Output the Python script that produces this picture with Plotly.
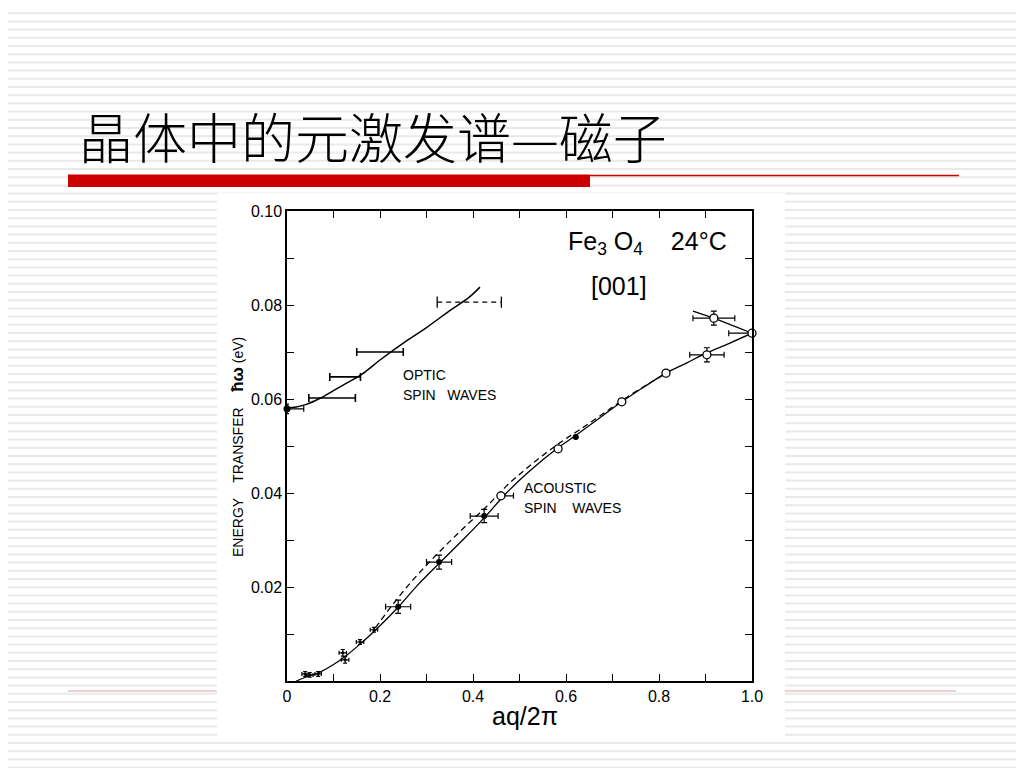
import plotly.graph_objects as go

# ---------------- data ----------------
# acoustic branch: small points near origin (tiny error crosses)
small_x = [0.039, 0.049, 0.067, 0.120, 0.125, 0.157, 0.187]
small_y = [0.0015, 0.0013, 0.0015, 0.0060, 0.0045, 0.0083, 0.0109]
small_ex = [0.007, 0.007, 0.007, 0.008, 0.008, 0.008, 0.008]
small_ey = [0.0005, 0.0005, 0.0005, 0.0007, 0.0007, 0.0005, 0.0005]

# acoustic filled points
filled_x = [0.239, 0.327, 0.424, 0.621]
filled_y = [0.0158, 0.0253, 0.0351, 0.0519]
filled_ex = [0.027, 0.027, 0.030, 0.0]
filled_ey = [0.0014, 0.0015, 0.0014, 0.0]

# acoustic open points
open_x = [0.460, 0.583, 0.720, 0.815, 0.903, 0.918, 1.000]
open_y = [0.0394, 0.0494, 0.0594, 0.0655, 0.0694, 0.0772, 0.0740]
open_ex_plus = [0.027, 0.0, 0.0, 0.0, 0.037, 0.045, 0.0]
open_ex_minus = [0.0, 0.0, 0.0, 0.0, 0.037, 0.045, 0.050]
open_ey = [0.0, 0.0, 0.0, 0.0, 0.0015, 0.0015, 0.0]

# acoustic curves
ac_x = [0.02, 0.04, 0.067, 0.10, 0.13, 0.16, 0.19, 0.24, 0.28, 0.33, 0.38, 0.424,
        0.47, 0.52, 0.58, 0.62, 0.67, 0.72, 0.77, 0.815, 0.86, 0.90, 0.95, 1.00]
ac_y = [0.0000, 0.0008, 0.0017, 0.0035, 0.0056, 0.0081, 0.0108, 0.0158, 0.0203, 0.0253,
        0.0302, 0.0347, 0.0398, 0.0445, 0.0494, 0.0522, 0.0558, 0.0594, 0.0627, 0.0655,
        0.0677, 0.0697, 0.0718, 0.0740]
dash_x = [0.19, 0.23, 0.27, 0.31, 0.35, 0.39, 0.43, 0.47, 0.51, 0.55, 0.59, 0.63,
          0.68, 0.73, 0.78, 0.82]
dash_y = [0.0113, 0.0166, 0.0214, 0.0257, 0.0297, 0.0335, 0.0372, 0.0413, 0.0448, 0.0480,
          0.0509, 0.0535, 0.0569, 0.0603, 0.0634, 0.0657]
upper_x = [0.873, 0.918, 1.000]
upper_y = [0.0787, 0.0772, 0.0740]

# optic branch
optic_pt_x = [0.0]
optic_pt_y = [0.0579]
optic_bar_x = [0.097, 0.125, 0.200]
optic_bar_y = [0.0602, 0.0647, 0.0700]
optic_bar_ex = [0.050, 0.033, 0.050]
optic_dash_x = [0.392]
optic_dash_y = [0.0806]
optic_dash_ex = [0.069]
op_x = [0.0, 0.02, 0.04, 0.07, 0.10, 0.13, 0.16, 0.20, 0.25, 0.30, 0.35, 0.39, 0.415]
op_y = [0.0581, 0.0583, 0.0588, 0.0601, 0.0618, 0.0635, 0.0652, 0.0683, 0.0719, 0.0752,
        0.0788, 0.0815, 0.0838]

x_ticks = [0.0, 0.2, 0.4, 0.6, 0.8, 1.0]
x_ticktext = ["0", "0.2", "0.4", "0.6", "0.8", "1.0"]
y_ticks = [0.02, 0.04, 0.06, 0.08, 0.10]
y_ticktext = ["0.02", "0.04", "0.06", "0.08", "0.10"]

# ---------------- layout helpers ----------------
W, H = 1024, 768
OFF = 8  # page body margin
L, R, T, B = 287, 752, 211, 681


def px(x):
    return (x - L) / (R - L)


def py(y):
    return (B - y) / (B - T)


FONT = "Liberation Sans"
fig = go.Figure()

err_kw = dict(color="black", thickness=1.2)

# curves
fig.add_trace(go.Scatter(x=ac_x, y=ac_y, mode="lines", line=dict(color="black", width=1.3),
                         line_shape="spline", hoverinfo="skip"))
fig.add_trace(go.Scatter(x=dash_x, y=dash_y, mode="lines",
                         line=dict(color="black", width=1.3, dash="6px,4px"),
                         line_shape="spline", hoverinfo="skip"))
fig.add_trace(go.Scatter(x=upper_x, y=upper_y, mode="lines", line=dict(color="black", width=1.3),
                         cliponaxis=False, hoverinfo="skip"))
fig.add_trace(go.Scatter(x=op_x, y=op_y, mode="lines", line=dict(color="black", width=1.5),
                         line_shape="spline", cliponaxis=False, hoverinfo="skip"))

# small points
fig.add_trace(go.Scatter(x=small_x, y=small_y, mode="markers",
                         marker=dict(color="black", size=3),
                         error_x=dict(type="data", array=small_ex, width=2, **err_kw),
                         error_y=dict(type="data", array=small_ey, width=2, **err_kw)))
# filled
fig.add_trace(go.Scatter(x=filled_x, y=filled_y, mode="markers",
                         marker=dict(color="black", size=6),
                         error_x=dict(type="data", array=filled_ex, width=3, **err_kw),
                         error_y=dict(type="data", array=filled_ey, width=3, **err_kw)))
# open
fig.add_trace(go.Scatter(x=open_x, y=open_y, mode="markers", cliponaxis=False,
                         marker=dict(color="white", size=8, line=dict(color="black", width=1.3)),
                         error_x=dict(type="data", array=open_ex_plus, arrayminus=open_ex_minus,
                                      symmetric=False, width=3, **err_kw),
                         error_y=dict(type="data", array=open_ey, width=3, **err_kw)))
# optic point at zone centre
fig.add_trace(go.Scatter(x=optic_pt_x, y=optic_pt_y, mode="markers", cliponaxis=False,
                         marker=dict(color="black", size=7),
                         error_x=dict(type="data", array=[0.036], arrayminus=[0.0],
                                      symmetric=False, width=3, **err_kw),
                         error_y=dict(type="data", array=[0.001], width=2, **err_kw)))
# optic horizontal bars
fig.add_trace(go.Scatter(x=optic_bar_x, y=optic_bar_y, mode="markers",
                         marker=dict(color="black", size=1, opacity=0),
                         error_x=dict(type="data", array=optic_bar_ex, width=4,
                                      color="black", thickness=1.6)))
# optic dashed bar
dleft = [c - e for c, e in zip(optic_dash_x, optic_dash_ex)]
dright = [c + e for c, e in zip(optic_dash_x, optic_dash_ex)]
fig.add_trace(go.Scatter(x=[dleft[0], dright[0]], y=[optic_dash_y[0], optic_dash_y[0]],
                         mode="lines+markers",
                         line=dict(color="black", width=1.3, dash="5px,4px"),
                         marker=dict(symbol="line-ns", size=8,
                                     line=dict(color="black", width=1.3))))

# ---------------- decorations ----------------
shapes = []
# background stripes
y0 = 5.0
while y0 < H + OFF:
    shapes.append(dict(type="line", xref="paper", yref="paper", layer="below",
                       x0=px(0), x1=px(W + OFF), y0=py(y0), y1=py(y0),
                       line=dict(color="#e9e9e9", width=2)))
    y0 += 8.2
# footer line
shapes.append(dict(type="line", xref="paper", yref="paper", layer="below",
                   x0=px(68), x1=px(956), y0=py(691), y1=py(691),
                   line=dict(color="#d9a8a8", width=1)))
# white picture box
shapes.append(dict(type="rect", xref="paper", yref="paper", layer="below",
                   x0=px(217), x1=px(785), y0=py(738), y1=py(193),
                   fillcolor="white", line=dict(width=0)))
# red title bar
shapes.append(dict(type="rect", xref="paper", yref="paper", layer="below",
                   x0=px(68), x1=px(590), y0=py(187), y1=py(174.5),
                   fillcolor="#cc0000", line=dict(width=0)))
shapes.append(dict(type="line", xref="paper", yref="paper", layer="below",
                   x0=px(590), x1=px(959), y0=py(175.5), y1=py(175.5),
                   line=dict(color="#cc0000", width=1.5)))


def ann(text, x, y, size, xanchor="left", family=FONT, weight=None, **kw):
    font = dict(family=family, size=size, color="black")
    if weight is not None:
        font["weight"] = weight
    return dict(text=text, x=px(x), y=py(y), xref="paper", yref="paper",
                xanchor=xanchor, yanchor="middle", showarrow=False, font=font, **kw)


annotations = [
    ann("晶体中的元激发谱—磁子", 77, 135, 54, family="Noto Sans CJK SC", weight=300),
    ann("Fe<sub>3</sub> O<sub>4</sub>    24°C", 566, 243, 25),
    ann("[001]", 619, 286, 25, xanchor="center"),
    ann("OPTIC", 401, 375, 14),
    ann("SPIN   WAVES", 401, 395, 14),
    ann("ACOUSTIC", 522, 488, 14),
    ann("SPIN    WAVES", 522, 508, 14),
    ann("aq/2π", 525, 716, 25, xanchor="center"),
    ann("ENERGY    TRANSFER    <span style='font-size:17px'><b>ħω</b></span> (eV)",
        237, 447, 14, xanchor="center", textangle=-90),
]

axis_common = dict(showgrid=False, zeroline=False, showline=True, linecolor="black",
                   linewidth=1.5, mirror="ticks", ticks="inside", ticklen=7,
                   tickwidth=1.2, tickcolor="black",
                   tickfont=dict(family=FONT, size=16, color="black"))

fig.update_layout(
    width=W, height=H,
    margin=dict(l=L - OFF, r=W - R + OFF, t=T - OFF, b=H - B + OFF),
    paper_bgcolor="white", plot_bgcolor="white", showlegend=False,
    xaxis=dict(range=[0, 1], tickvals=x_ticks, ticktext=x_ticktext,
               minor=dict(ticks="inside", dtick=0.1, tick0=0, ticklen=7, tickwidth=1.2,
                          tickcolor="black"),
               **axis_common),
    yaxis=dict(range=[0, 0.1], tickvals=y_ticks, ticktext=y_ticktext,
               minor=dict(ticks="inside", dtick=0.01, tick0=0, ticklen=7, tickwidth=1.2,
                          tickcolor="black"),
               **axis_common),
    shapes=shapes, annotations=annotations,
)

fig.write_html("out.html")
